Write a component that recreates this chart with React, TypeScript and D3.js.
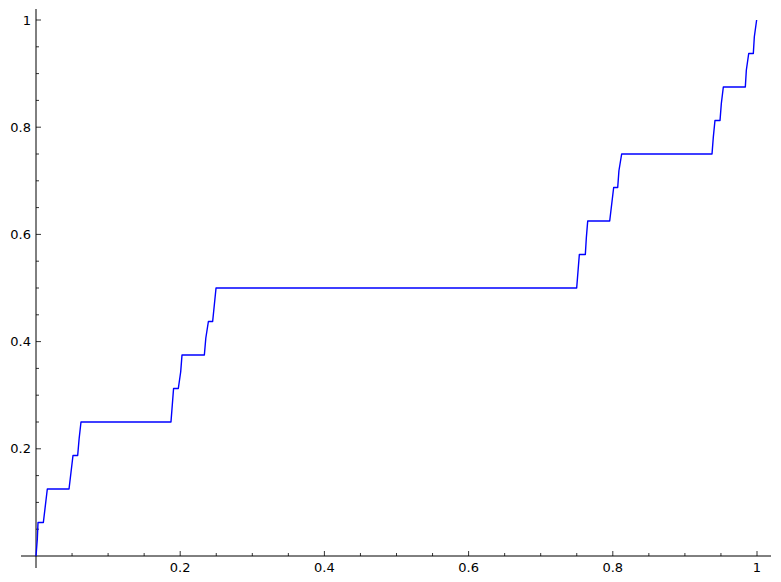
import React from "react";
import * as d3 from "d3";

const xs: number[] = [
  0, 0.0018, 0.0028, 0.0102, 0.0157, 0.0458, 0.0513, 0.0578, 0.0598, 0.0624,
  0.1872, 0.189, 0.1908, 0.1974, 0.2007, 0.2025, 0.2335, 0.2355, 0.2391, 0.245, 0.2497,
  0.7499, 0.7536, 0.7619, 0.7633, 0.7652, 0.7957, 0.8012, 0.8068, 0.8085, 0.8123,
  0.9376, 0.9394, 0.9417, 0.9487, 0.9505, 0.9533, 0.9838, 0.9852, 0.9885, 0.9949, 0.9963, 0.9995,
];
const ys: number[] = [
  0, 0.03125, 0.0625, 0.0625, 0.125, 0.125, 0.1875, 0.1875, 0.21875, 0.25,
  0.25, 0.28125, 0.3125, 0.3125, 0.34375, 0.375, 0.375, 0.40625, 0.4375, 0.4375, 0.5,
  0.5, 0.5625, 0.5625, 0.59375, 0.625, 0.625, 0.6875, 0.6875, 0.71875, 0.75,
  0.75, 0.78125, 0.8125, 0.8125, 0.84375, 0.875, 0.875, 0.90625, 0.9375, 0.9375, 0.96875, 1.0,
];

const majorTicks: number[] = [0.2, 0.4, 0.6, 0.8, 1];
const majorLabels: string[] = ["0.2", "0.4", "0.6", "0.8", "1"];
const minorTicks: number[] = [0.05, 0.1, 0.15, 0.25, 0.3, 0.35, 0.45, 0.5, 0.55, 0.65, 0.7, 0.75, 0.85, 0.9, 0.95];

export default function App() {
  const W = 781, H = 582;
  const x = d3.scaleLinear().domain([0, 1]).range([36, 757]);
  const y = d3.scaleLinear().domain([0, 1]).range([556, 20]);
  const pts: [number, number][] = xs.map((v, i) => [v, ys[i]]);
  const line = d3.line<[number, number]>().x((d) => x(d[0])).y((d) => y(d[1]));
  const x0 = x(0), y0 = y(0);
  const font = "'DejaVu Sans', sans-serif";
  return (
    <svg width={W} height={H} style={{ position: "absolute", left: 0, top: 0, background: "#fff" }}>
      <rect width={W} height={H} fill="#fff" />
      {/* axes */}
      <line x1={21} x2={771} y1={y0} y2={y0} stroke="#000" strokeWidth={1} />
      <line x1={x0} x2={x0} y1={9} y2={568} stroke="#000" strokeWidth={1} />
      {/* x ticks */}
      {minorTicks.map((t) => (
        <line key={"xm" + t} x1={x(t)} x2={x(t)} y1={y0} y2={y0 - 3} stroke="#000" strokeWidth={0.8} />
      ))}
      {majorTicks.map((t) => (
        <line key={"xM" + t} x1={x(t)} x2={x(t)} y1={y0} y2={y0 - 5} stroke="#000" strokeWidth={0.8} />
      ))}
      {majorTicks.map((t, i) => (
        <text key={"xl" + t} x={x(t)} y={572} textAnchor="middle" fontFamily={font} fontSize={13} fill="#000">
          {majorLabels[i]}
        </text>
      ))}
      {/* y ticks */}
      {minorTicks.map((t) => (
        <line key={"ym" + t} x1={x0} x2={x0 + 3} y1={y(t)} y2={y(t)} stroke="#000" strokeWidth={0.8} />
      ))}
      {majorTicks.map((t) => (
        <line key={"yM" + t} x1={x0} x2={x0 + 5} y1={y(t)} y2={y(t)} stroke="#000" strokeWidth={0.8} />
      ))}
      {majorTicks.map((t, i) => (
        <text key={"yl" + t} x={31} y={y(t)} dy="0.35em" textAnchor="end" fontFamily={font} fontSize={13} fill="#000">
          {majorLabels[i]}
        </text>
      ))}
      <path d={line(pts) || ""} fill="none" stroke="#0000ff" strokeWidth={1.4} strokeLinejoin="round" />
    </svg>
  );
}
